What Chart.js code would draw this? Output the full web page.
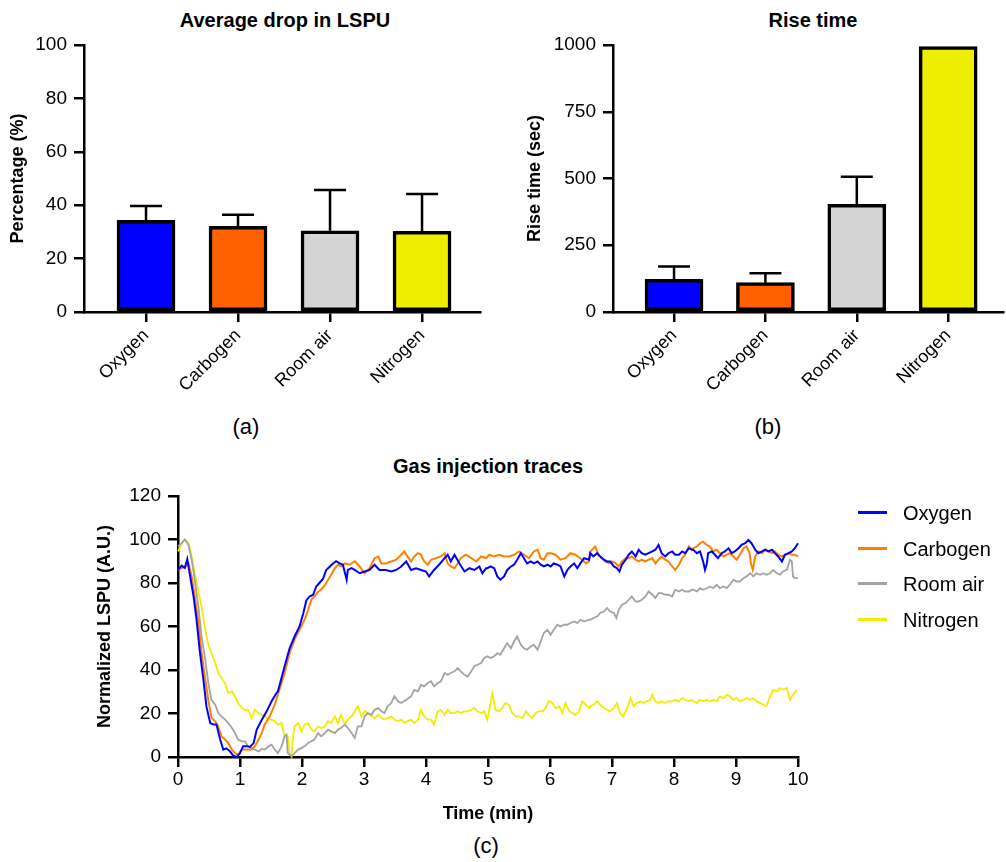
<!DOCTYPE html>
<html>
<head>
<meta charset="utf-8">
<script src="https://cdn.jsdelivr.net/npm/chart.js@4.4.1/dist/chart.umd.min.js"></script>
<style>
  body { margin: 0; width: 1006px; height: 862px; background: #fff; position: relative; overflow: hidden;
         font-family: "Liberation Sans", Arial, Helvetica, sans-serif; color: #000; }
  .box { position: absolute; }
  .txt { position: absolute; width: 400px; text-align: center; line-height: 1; white-space: nowrap; }
  .bold { font-weight: bold; font-size: 20px; }
  .panel { font-size: 22px; }
  .leg { position: absolute; font-size: 20px; line-height: 1; white-space: nowrap; }
  .leg span { position: absolute; left: -45px; top: 8px; width: 29px; height: 3px; }
</style>
</head>
<body>

<div class="txt bold" style="left:85px; top:10px;">Average drop in LSPU</div>
<div class="txt bold" style="left:613px; top:10px;">Rise time</div>
<div class="txt bold" style="left:288px; top:456px;">Gas injection traces</div>
<div class="txt panel" style="left:46px; top:416px;">(a)</div>
<div class="txt panel" style="left:568px; top:416px;">(b)</div>
<div class="txt panel" style="left:286px; top:835px;">(c)</div>

<div class="box" style="left:0; top:0; width:490px; height:450px;"><canvas id="dropChart"></canvas></div>
<div class="box" style="left:490px; top:0; width:516px; height:450px;"><canvas id="riseChart"></canvas></div>
<div class="box" style="left:0; top:450px; width:1006px; height:412px;"><canvas id="traceChart"></canvas></div>
<div id="legend"></div>

<script>
// gases
const categories = ["Oxygen", "Carbogen", "Room air", "Nitrogen"];
const barColors = ["#0000ff", "#ff6000", "#d4d4d4", "#eeee00"];
const lineColors = ["#0000ff", "#ff8000", "#a3a3a3", "#f2ec00"];

// (a) average drop in LSPU, mean and SD (%)
const dropMean = [34.3, 32.1, 30.4, 30.2];
const dropSd = [5.4, 4.3, 15.3, 14.0];
const dropTicks = [0, 20, 40, 60, 80, 100];

// (b) rise time, mean and SD (sec)
const riseMean = [122, 110, 403, 994];
const riseSd = [48, 35, 104, 0];
const riseTicks = [0, 250, 500, 750, 1000];

// (c) traces, [time (min), normalized LSPU]
const oxygenTrace = [
  [0,86],[0.06,88],[0.11,87],[0.15,91],[0.19,84],[0.25,74],[0.30,63],[0.35,49],[0.41,35.5],[0.46,23],
  [0.52,15.6],[0.57,15],[0.62,15],[0.68,8],[0.73,3.4],[0.78,4],[0.84,2.6],[0.89,0.6],[0.95,0],[1.00,1.8],
  [1.05,5],[1.11,5],[1.16,4.6],[1.22,6.4],[1.27,12.6],[1.35,17],[1.43,21],[1.51,25.6],[1.59,29.5],
  [1.61,30],[1.72,41.7],[1.80,50],[1.88,55.4],[1.96,60],[2.02,66],[2.07,72],[2.12,73.8],[2.18,74.6],[2.23,78.4],
  [2.28,80],[2.34,82],[2.39,86],[2.45,87.6],[2.50,89],[2.55,90],[2.61,89],[2.66,88.4],[2.72,81.5],[2.74,86],
  [2.80,86.8],[2.85,86],[2.93,84.5],[3.01,85.3],[3.09,86],[3.17,88.4],[3.25,86],
  [3.35,86],[3.44,85.3],[3.52,86],[3.60,87.6],[3.68,89.9],[3.76,86],[3.84,86.8],[3.92,86],[4.00,85.3],[4.05,83],
  [4.13,86],[4.21,88.4],[4.30,91.4],[4.35,93],[4.40,89.9],[4.46,93],[4.54,89],[4.62,85.3],[4.70,86.8],[4.78,86],
  [4.86,87.6],[4.91,84.5],[4.97,86.8],
  [4.99,86.8],[5.04,87.6],[5.10,86.8],[5.15,83],[5.20,81.5],[5.26,83],[5.31,86],[5.37,87.6],[5.42,88.4],[5.47,90.7],
  [5.53,93.7],[5.58,91.4],[5.63,89],[5.69,89.9],[5.74,89],[5.80,89.9],[5.85,88.4],[5.90,87.6],[5.96,88.4],[6.01,87.6],
  [6.06,89],[6.12,88.4],[6.17,87.6],[6.23,83],[6.28,86],[6.33,87.6],[6.39,89],[6.44,86.8],[6.49,89],[6.55,91.4],[6.63,90.7],
  [6.65,93.7],[6.70,92.2],[6.76,93.7],[6.81,92.2],[6.87,90.7],[6.92,89.9],[6.97,89.9],[7.03,87.6],[7.08,86.8],[7.12,85.3],
  [7.16,88.4],[7.22,90.7],[7.27,93],[7.32,94.5],[7.38,92.2],[7.43,95.3],[7.48,93.7],[7.54,93],[7.59,93.7],[7.65,94.5],
  [7.70,95.3],[7.75,97.5],[7.80,93.7],[7.86,92.2],[7.91,93.7],[7.97,94.5],[8.02,93],[8.08,93],[8.13,94.5],[8.18,93.7],
  [8.24,96],[8.29,95.3],
  [8.31,95.3],[8.37,93.7],[8.42,94.5],[8.47,89.9],[8.50,86],[8.53,89],[8.55,93.7],[8.61,94.5],[8.66,93],[8.71,91.4],
  [8.77,93.7],[8.82,94.5],[8.88,96],[8.93,93.7],[8.98,94.5],[9.04,96],[9.09,97.5],[9.15,98.3],[9.20,99.8],[9.25,98.3],
  [9.31,95.3],[9.36,93.7],[9.42,94.5],[9.47,95.3],[9.52,94.5],[9.58,95.3],[9.63,93.7],[9.68,92.2],[9.74,89.9],[9.79,93],
  [9.85,93.7],[9.90,94.5],[9.95,96],[10,98.3]
];
const carbogenTrace = [
  [0,86],[0.06,87],[0.11,87],[0.17,89],[0.22,83],[0.27,74],[0.33,61.5],[0.38,48],[0.44,35.5],[0.49,26],
  [0.54,18],[0.60,16.4],[0.65,14],[0.70,9.5],[0.76,8],[0.81,6.4],[0.87,3.4],[0.92,1.8],[0.97,1],[1.03,3.4],
  [1.08,3.4],[1.13,3.4],[1.19,3.4],[1.24,5],[1.30,8],[1.35,11],[1.40,15],[1.48,18.7],[1.56,24],
  [1.61,28.6],[1.72,38.6],[1.80,47.8],[1.88,54],[1.96,58.5],[2.04,63],[2.10,67.7],[2.15,72.3],[2.20,73.8],[2.26,76],
  [2.31,77],[2.37,79],[2.42,81.5],[2.47,83.8],[2.53,86.8],[2.58,88.4],[2.63,87.6],[2.69,89],[2.77,88.4],[2.85,90],
  [2.93,87.6],[3.01,84.5],[3.09,86.8],[3.17,91.4],[3.23,92.2],[3.28,89],
  [3.35,89],[3.44,89.9],[3.52,90.7],[3.60,93],[3.65,94.5],[3.70,92.2],[3.76,89.9],[3.81,92.2],[3.87,93.7],[3.92,93],
  [3.97,89.9],[4.03,88.4],[4.08,90.7],[4.16,91.4],[4.24,92.2],[4.30,93.7],[4.35,89],[4.40,87.6],[4.46,86.8],[4.51,89],
  [4.56,91.4],[4.645,93],[4.73,91.4],[4.81,89.9],[4.89,92.2],[4.97,91.4],
  [5.02,93],[5.10,92.2],[5.18,93],[5.26,92.2],[5.34,92.2],[5.42,93],[5.50,94.5],[5.58,93],[5.66,91.4],[5.74,94.5],
  [5.80,95.3],[5.85,91.4],[5.90,90.7],[5.96,93.7],[6.01,93.7],[6.09,93],[6.17,90.7],[6.25,91.4],[6.33,93.7],[6.41,93],
  [6.49,91.4],[6.58,89],[6.63,89.9],
  [6.65,94.5],[6.73,96.8],[6.78,93],[6.84,91.4],[6.89,89.9],[6.95,89],[7.00,89.9],[7.06,89],[7.11,87.6],[7.16,89.9],
  [7.22,91.4],[7.27,91.4],[7.32,92.2],[7.38,90.7],[7.43,89.9],[7.48,90.7],[7.54,89.9],[7.59,90.7],[7.65,91.4],[7.70,89],
  [7.75,90.7],[7.80,92.2],[7.86,90.7],[7.91,89.9],[7.97,87.6],[8.02,86],[8.08,88.4],[8.13,91.4],[8.18,93],[8.24,96.8],
  [8.29,95.3],
  [8.31,96],[8.37,96.8],[8.42,98.3],[8.47,99],[8.53,97.5],[8.58,96.8],[8.63,94.5],[8.69,95.3],[8.74,93.7],[8.80,92.2],
  [8.85,93],[8.90,93.7],[8.96,92.2],[9.01,90.7],[9.06,93],[9.12,96],[9.17,96.8],[9.22,93.7],[9.24,89],[9.27,86],
  [9.31,92.2],[9.36,94.5],[9.42,93.7],[9.47,95.3],[9.52,94.5],[9.58,93.7],[9.63,94.5],[9.68,93],[9.74,92.2],[9.79,93],
  [9.85,93.7],[9.90,93],[9.95,93],[10,92.2]
];
const roomAirTrace = [
  [0,96.8],[0.06,98.3],[0.11,100],[0.17,97.5],[0.22,90.7],[0.27,81.5],[0.33,69],[0.38,55.4],[0.44,44.7],[0.49,34],
  [0.54,26.3],[0.60,24],[0.65,20.2],[0.70,18.7],[0.76,17.2],[0.81,15.6],[0.87,13.3],[0.92,11],[0.97,8],[1.03,7.2],
  [1.08,7.2],[1.13,4.9],[1.19,4.1],[1.24,3.4],[1.30,2.6],[1.35,3.7],[1.40,3.4],[1.46,4.9],[1.51,5.7],[1.56,3.4],
  [1.61,1.8],[1.67,4.9],[1.72,9.5],[1.75,10.3],[1.77,1.8],[1.83,0.3],[1.88,1.8],[1.94,3.4],[1.99,4.1],[2.04,4.9],
  [2.10,6.4],[2.15,7.2],[2.20,8],[2.26,11],[2.31,9.5],[2.37,11],[2.42,12.6],[2.47,11.8],[2.53,11],[2.58,12.6],
  [2.63,13.3],[2.69,14.9],[2.74,13.3],[2.80,11],[2.85,8.7],[2.90,14.1],[2.96,14.1],[3.01,18.7],[3.06,20.2],[3.12,19.4],
  [3.17,21.7],[3.23,22.5],[3.28,21],
  [3.33,20.2],[3.38,23.3],[3.44,24.8],[3.49,27.9],[3.55,25.6],[3.60,24.8],[3.68,26.3],[3.76,27.9],[3.81,30.9],[3.87,30.2],
  [3.92,33.2],[3.97,32.5],[4.03,34],[4.08,34.8],[4.13,32.5],[4.19,34],[4.24,34.8],[4.30,38.6],[4.35,37.8],[4.40,38.6],
  [4.46,39.4],[4.51,40.9],[4.56,39.4],[4.62,37.8],[4.67,37],[4.73,39.4],[4.78,41.7],[4.83,42.4],[4.89,43.2],[4.94,45.5],
  [4.99,46.3],[5.04,45.5],[5.10,46.3],[5.15,47.8],[5.20,47],[5.26,50],[5.31,52.4],[5.37,50],[5.42,53.1],[5.47,55.4],
  [5.53,51.6],[5.58,50],[5.63,49.3],[5.69,50.8],[5.74,51.6],[5.80,49.3],[5.85,53.1],[5.90,57],[5.96,58.5],[6.01,56.2],
  [6.06,58.5],[6.12,60.8],[6.17,60],[6.23,60.8],[6.28,60.8],[6.33,61.6],[6.39,62.3],[6.44,61.6],[6.49,63.1],[6.55,62.3],
  [6.63,63.1],
  [6.65,63.1],[6.70,63.9],[6.76,64.6],[6.81,66.2],[6.87,66.9],[6.92,68.5],[6.97,66.9],[7.03,66.2],[7.07,63.9],[7.11,67.7],
  [7.16,70],[7.22,70.8],[7.27,72.3],[7.32,73.8],[7.38,71.5],[7.43,71.5],[7.48,72.3],[7.54,73.8],[7.59,76.1],[7.65,74.6],
  [7.70,73.1],[7.75,75.3],[7.80,75.3],[7.86,74.6],[7.91,74.6],[7.97,73.8],[8.02,76.9],[8.08,76.1],[8.13,76.9],[8.18,76.1],
  [8.24,76.1],[8.29,76.9],
  [8.31,76.9],[8.37,76.1],[8.42,77.6],[8.47,76.9],[8.53,77.6],[8.58,78.4],[8.63,77.6],[8.69,79.2],[8.74,77.6],[8.80,78.4],
  [8.85,77.6],[8.90,79.2],[8.96,81.5],[9.01,80.7],[9.06,80.7],[9.12,82.2],[9.17,83],[9.23,84.5],[9.28,83],[9.33,84.5],
  [9.39,83.8],[9.44,84.5],[9.49,83.8],[9.55,84.5],[9.60,86],[9.66,84.5],[9.71,83.8],[9.76,85.3],[9.82,86],[9.87,90.7],
  [9.90,89.9],[9.92,83],[9.95,82.2],[10,82.2]
];
const nitrogenTrace = [
  [0,94.5],[0.06,98.3],[0.11,100],[0.17,98.3],[0.22,92.2],[0.27,84.5],[0.33,76],[0.38,69],[0.44,58.5],[0.49,51.6],
  [0.54,47.8],[0.60,43.2],[0.65,38.6],[0.70,36.3],[0.76,34],[0.81,29.4],[0.87,30.2],[0.92,27.9],[0.97,24.8],[1.03,22.5],
  [1.08,21.7],[1.13,21.7],[1.19,17.9],[1.24,21.7],[1.30,20.2],[1.35,19.4],[1.40,18.7],[1.46,17.2],[1.51,17.2],[1.56,16.4],
  [1.61,14.9],[1.67,15.6],[1.72,9.5],[1.77,9.5],[1.80,1.8],[1.83,0.3],[1.85,8],[1.88,14.1],[1.94,15.6],[1.99,11.8],
  [2.04,14.9],[2.10,15.6],[2.15,12.6],[2.20,11.8],[2.26,14.1],[2.31,13.3],[2.37,14.1],[2.42,16.4],[2.47,15.6],[2.53,18.7],
  [2.58,15.6],[2.63,19.4],[2.69,14.9],[2.74,17.2],[2.80,18.7],[2.85,21],[2.90,23.3],[2.96,18.7],[3.01,21],[3.06,20.2],
  [3.12,18.7],[3.17,17.9],[3.23,19.4],[3.28,17.9],
  [3.33,17.2],[3.38,17.9],[3.44,18.7],[3.49,17.2],[3.55,16.4],[3.60,17.2],[3.65,15.6],[3.70,16.4],[3.76,17.2],[3.81,15.6],
  [3.87,17.2],[3.92,21.7],[3.97,18.7],[4.03,17.2],[4.08,17.2],[4.13,14.9],[4.19,21],[4.24,21.7],[4.30,19.4],[4.35,21.7],
  [4.40,20.2],[4.46,20.2],[4.51,21],[4.56,20.2],[4.62,21],[4.67,21],[4.73,21.7],[4.78,22.5],[4.83,21],[4.89,20.2],[4.94,21],
  [4.99,17.2],[5.02,21.7],[5.07,29.4],[5.12,21.7],[5.18,21],[5.23,22.5],[5.28,24.8],[5.34,24],[5.39,20.2],[5.45,18.7],
  [5.50,18.7],[5.56,17.9],[5.61,21],[5.66,19.4],[5.71,17.9],[5.77,20.2],[5.82,21],[5.88,21],[5.93,22.5],[5.98,25.6],
  [6.04,24.8],[6.09,22.5],[6.15,23.3],[6.20,20.2],[6.25,24.8],[6.31,21],[6.36,20.2],[6.41,19.4],[6.47,21],[6.52,25.6],
  [6.58,24],[6.63,22.5],
  [6.65,23.3],[6.70,24],[6.76,25.6],[6.81,24],[6.87,22.5],[6.92,21.7],[6.97,21],[7.03,22.5],[7.08,24.8],[7.13,20.2],
  [7.18,18.7],[7.22,21],[7.27,24.8],[7.30,27.1],[7.35,23.3],[7.40,24.8],[7.46,25.6],[7.51,24.8],[7.56,25.6],[7.62,26.3],
  [7.65,28.6],[7.70,25.6],[7.75,24.8],[7.80,25.6],[7.86,24.8],[7.91,25.6],[7.97,25.6],[8.02,26.3],[8.08,25.6],[8.13,27.1],
  [8.18,26.3],[8.24,25.6],[8.29,26.3],
  [8.31,25.6],[8.37,24.8],[8.42,26.3],[8.47,25.6],[8.53,26.3],[8.58,25.6],[8.63,26.3],[8.69,25.6],[8.74,27.9],[8.80,27.1],
  [8.85,28.6],[8.90,27.9],[8.96,26.3],[9.01,27.1],[9.06,25.6],[9.12,26.3],[9.17,27.1],[9.23,26.3],[9.28,27.1],[9.33,25.6],
  [9.39,24.8],[9.44,24],[9.49,23.3],[9.55,27.9],[9.60,30.9],[9.66,30.2],[9.71,31.7],[9.76,30.9],[9.82,31.7],[9.87,26.3],
  [9.92,28.6],[9.98,30.9]
];
const traceTicksY = [0, 20, 40, 60, 80, 100, 120];
const traceTicksX = [0, 1, 2, 3, 4, 5, 6, 7, 8, 9, 10];

Chart.defaults.font.family = '"Liberation Sans", Arial, Helvetica, sans-serif';
Chart.defaults.color = "#000";
Chart.defaults.animation = false;

const axisGrid = { drawOnChartArea: false, tickLength: 10, lineWidth: 2.5, color: "#000", offset: false };
const axisBorder = { color: "#000", width: 2.5 };

// mean + SD whiskers, drawn above the bars
const errorBarPlugin = {
  id: "errorBars",
  afterDatasetsDraw(chart, args, opts) {
    const { ctx, scales: { x, y } } = chart;
    ctx.save();
    ctx.strokeStyle = "#000";
    ctx.lineWidth = 2.5;
    opts.mean.forEach((m, i) => {
      if (!opts.sd[i]) return;
      const px = x.getPixelForValue(i + 1);
      const y0 = y.getPixelForValue(m);
      const y1 = y.getPixelForValue(m + opts.sd[i]);
      ctx.beginPath();
      ctx.moveTo(px, y0);
      ctx.lineTo(px, y1);
      ctx.moveTo(px - 16, y1);
      ctx.lineTo(px + 16, y1);
      ctx.stroke();
    });
    ctx.restore();
  }
};

function barChart(id, mean, sd, tickVals, yTitle, xRange, yWidth, titlePad, padRight) {
  return new Chart(document.getElementById(id), {
    type: "bar",
    data: {
      datasets: [{
        data: mean.map((v, i) => ({ x: i + 1, y: v })),
        backgroundColor: barColors,
        borderColor: "#000",
        borderWidth: 3.5,
        borderSkipped: false,
        barThickness: 58
      }]
    },
    plugins: [errorBarPlugin],
    options: {
      responsive: true,
      maintainAspectRatio: false,
      layout: { padding: { left: 0, right: padRight, top: 45, bottom: 38 } },
      plugins: {
        legend: { display: false },
        tooltip: { enabled: false },
        errorBars: { mean: mean, sd: sd }
      },
      scales: {
        x: {
          type: "linear",
          min: xRange[0],
          max: xRange[1],
          offset: false,
          afterBuildTicks: s => { s.ticks = categories.map((c, i) => ({ value: i + 1 })); },
          afterFit: s => { s.height = 100; },
          ticks: {
            callback: v => categories[v - 1],
            autoSkip: false,
            minRotation: 45,
            maxRotation: 45,
            padding: 3,
            font: { size: 18 }
          },
          grid: axisGrid,
          border: axisBorder
        },
        y: {
          min: tickVals[0],
          max: tickVals[tickVals.length - 1],
          afterBuildTicks: s => { s.ticks = tickVals.map(v => ({ value: v })); },
          afterFit: s => { s.width = yWidth; },
          ticks: { padding: 7, font: { size: 19 }, callback: v => String(v) },
          title: { display: true, text: yTitle, font: { size: 18, weight: "bold" }, padding: { top: titlePad, bottom: 0 } },
          grid: axisGrid,
          border: axisBorder
        }
      }
    }
  });
}

barChart("dropChart", dropMean, dropSd, dropTicks, "Percentage (%)", [0.326, 4.63], 84, 7, 10);
barChart("riseChart", riseMean, riseSd, riseTicks, "Rise time (sec)", [0.332, 4.60], 123, 34.7, 3);

// (c) gas injection traces
const traces = [oxygenTrace, carbogenTrace, roomAirTrace, nitrogenTrace];
const traceWidths = [2, 2, 1.8, 1.8];

new Chart(document.getElementById("traceChart"), {
  type: "line",
  data: {
    datasets: traces.map((tr, i) => ({
      label: categories[i],
      data: tr.map(p => ({ x: p[0], y: p[1] })),
      borderColor: lineColors[i],
      borderWidth: traceWidths[i],
      pointRadius: 0,
      tension: 0,
      fill: false,
      clip: false
    }))
  },
  options: {
    responsive: true,
    maintainAspectRatio: false,
    layout: { padding: { left: 0, right: 208, top: 46, bottom: 37 } },
    plugins: { legend: { display: false }, tooltip: { enabled: false } },
    scales: {
      x: {
        type: "linear",
        min: 0,
        max: 10,
        afterBuildTicks: s => { s.ticks = traceTicksX.map(v => ({ value: v })); },
        afterFit: s => { s.height = 68; },
        ticks: { padding: 1, maxRotation: 0, font: { size: 19 } },
        title: { display: true, text: "Time (min)", font: { size: 18, weight: "bold" }, padding: { top: 0, bottom: 0 } },
        grid: axisGrid,
        border: axisBorder
      },
      y: {
        min: 0,
        max: 120,
        afterBuildTicks: s => { s.ticks = traceTicksY.map(v => ({ value: v })); },
        afterFit: s => { s.width = 178; },
        ticks: { padding: 7, font: { size: 19 } },
        title: { display: true, text: "Normalized LSPU (A.U.)", font: { size: 18, weight: "bold" }, padding: { top: 94, bottom: 0 } },
        grid: axisGrid,
        border: axisBorder
      }
    }
  }
});

// legend to the right of the traces
const legendRowsY = [513, 549, 584, 620];
document.getElementById("legend").innerHTML = categories.map((c, i) =>
  `<div class="leg" style="left:903px; top:${legendRowsY[i] - 10}px;"><span style="background:${lineColors[i]}"></span>${c}</div>`
).join("");
</script>
</body>
</html>
